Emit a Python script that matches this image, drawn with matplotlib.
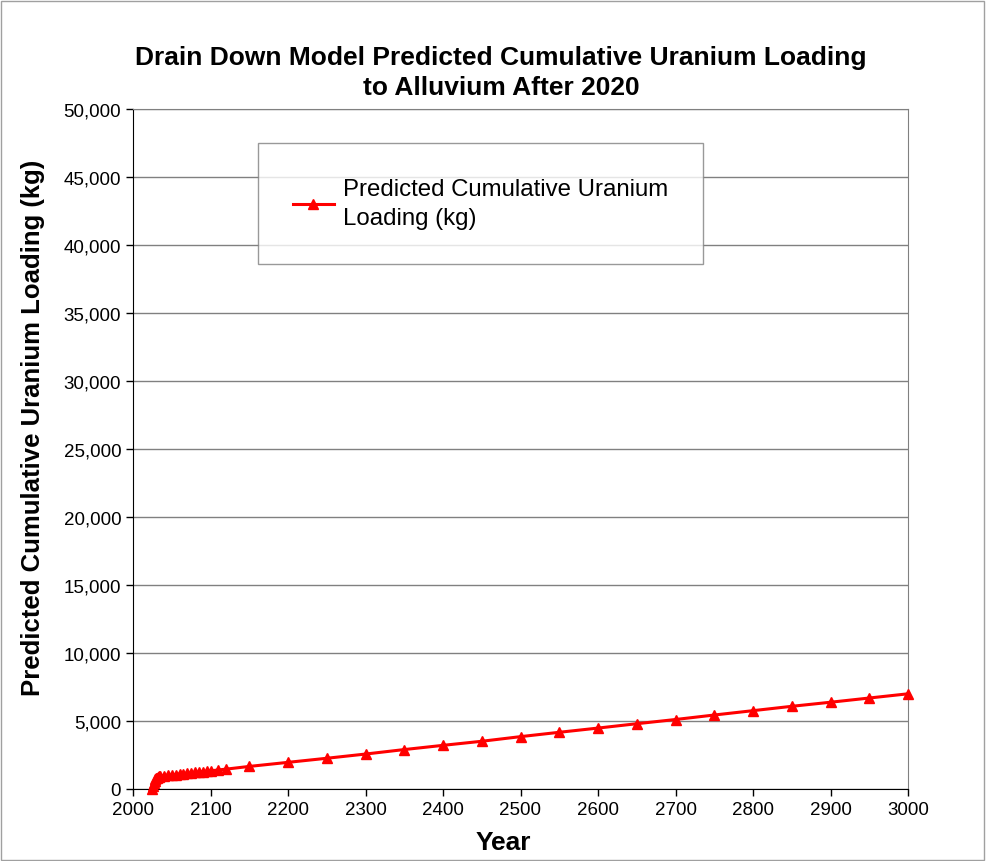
import matplotlib
matplotlib.use("Agg")
import matplotlib.pyplot as plt
from matplotlib.ticker import FuncFormatter, MultipleLocator
from matplotlib.patches import Rectangle

plt.rcParams['font.family'] = ['Liberation Sans', 'DejaVu Sans']

# predicted cumulative uranium loading
years = [2025, 2026, 2027, 2028, 2029, 2030, 2031, 2032, 2033, 2034, 2035,
         2040, 2045, 2050, 2055, 2060, 2065, 2070, 2075, 2080, 2085, 2090, 2095, 2100,
         2110, 2120, 2150, 2200, 2250, 2300, 2350, 2400, 2450, 2500, 2550, 2600,
         2650, 2700, 2750, 2800, 2850, 2900, 2950, 3000]
loading = [0, 250, 450, 600, 700, 780, 830, 870, 900, 920, 940,
           975, 1005, 1035, 1065, 1095, 1125, 1155, 1185, 1215, 1245, 1275, 1305, 1335,
           1400, 1460, 1660, 1960, 2260, 2570, 2900, 3210, 3510, 3850, 4170, 4480,
           4800, 5110, 5440, 5760, 6080, 6380, 6690, 7000]

series_name = "Predicted Cumulative Uranium\nLoading (kg)"
title = "Drain Down Model Predicted Cumulative Uranium Loading\nto Alluvium After 2020"

fig = plt.figure(figsize=(9.86, 8.62), dpi=100)
ax = fig.add_axes([133/986, 1 - 790/862, 775/986, 680/862])

ax.plot(years, loading, color='#ff0000', lw=2.2, marker='^', ms=7.5,
        markeredgecolor='#ff0000', label=series_name, clip_on=False, zorder=3)

ax.set_xlim(2000, 3000)
ax.set_ylim(0, 50000)
ax.xaxis.set_major_locator(MultipleLocator(100))
ax.yaxis.set_major_locator(MultipleLocator(5000))
ax.yaxis.set_major_formatter(FuncFormatter(lambda v, p: f"{int(v):,}"))
ax.tick_params(labelsize=13.5, direction='out', length=5, width=1, colors='black')
ax.grid(axis='y', color='#808080', lw=1)
ax.set_axisbelow(True)
for s in ['top', 'right']:
    ax.spines[s].set_color('#808080')
for s in ['left', 'bottom']:
    ax.spines[s].set_color('black')

fig.text(501/986, 1 - 73/862, title, fontsize=19, fontweight='bold',
         ha='center', va='center', linespacing=1.3)
fig.text(503/986, 1 - 843/862, "Year", fontsize=19, fontweight='bold',
         ha='center', va='center')
fig.text(33/986, 1 - 428/862, "Predicted Cumulative Uranium Loading (kg)", fontsize=18.5,
         fontweight='bold', rotation=90, ha='center', va='center')

leg = ax.legend(loc='upper left', bbox_to_anchor=((258-133)/775, (790-144)/680),
                fontsize=17.3, frameon=True, fancybox=False, edgecolor='#808080',
                borderpad=1.45, handlelength=1.7, handletextpad=0.4, borderaxespad=0)
leg.get_frame().set_linewidth(1)
for t in leg.get_texts():
    t.set_linespacing(1.45)

# outer chart border
fig.patches.append(Rectangle((0.001, 0.001), 0.997, 0.997, transform=fig.transFigure,
                             fill=False, edgecolor='#a0a0a0', lw=1))

fig.savefig("out.png", dpi=100)
